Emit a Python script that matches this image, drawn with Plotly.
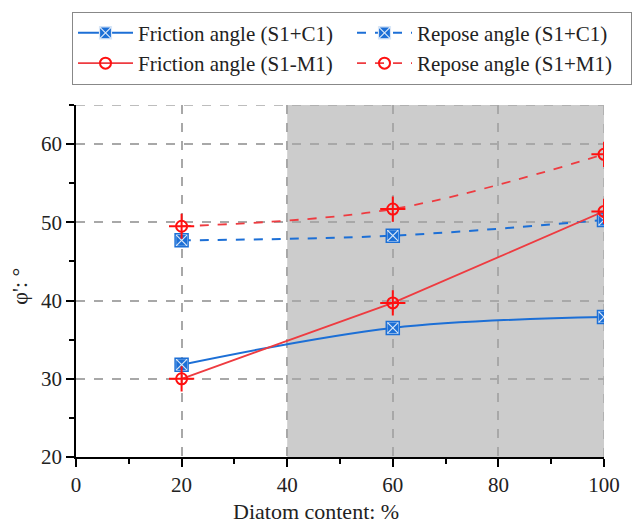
import plotly.graph_objects as go

x = [20, 60, 100]
fric_c1 = [31.8, 36.5, 37.9]
fric_m1 = [30.0, 39.7, 51.4]
repo_c1 = [47.7, 48.3, 50.3]
repo_m1 = [49.5, 51.7, 58.7]

BLUE = "#1c6fd6"
RED = "#ee3b40"
MRED = "#ff1010"
FONT = "Liberation Serif"

fig = go.Figure()

def blue_trace(y, name, dash, shape):
    fig.add_trace(go.Scatter(
        x=x, y=y, name=name, mode="lines+markers",
        line=dict(color=BLUE, width=2, dash=dash, shape=shape),
        marker=dict(symbol="square-x", size=12, color=BLUE,
                    line=dict(color="#d8e6f7", width=1.2)),
    ))
    fig.add_trace(go.Scatter(
        x=x, y=y, mode="markers", showlegend=False, hoverinfo="skip",
        marker=dict(symbol="square-open", size=13, color=BLUE,
                    line=dict(color=BLUE, width=1.5)),
    ))

def red_trace(y, name, dash, shape):
    fig.add_trace(go.Scatter(
        x=x, y=y, name=name, mode="lines+markers",
        line=dict(color=RED, width=1.8, dash=dash, shape=shape),
        marker=dict(symbol="circle-open", size=11, color=MRED,
                    line=dict(color=MRED, width=2)),
    ))
    fig.add_trace(go.Scatter(
        x=x, y=y, mode="markers", showlegend=False, hoverinfo="skip",
        marker=dict(symbol="cross-thin-open", size=18, color=MRED,
                    line=dict(color=MRED, width=2)),
    ))

blue_trace(fric_c1, "Friction angle (S1+C1)", "solid", "spline")
blue_trace(repo_c1, "Repose angle (S1+C1)", "dash", "spline")
red_trace(fric_m1, "Friction angle (S1-M1)", "solid", "linear")
red_trace(repo_m1, "Repose angle (S1+M1)", "dash", "spline")

fig.add_shape(type="rect", x0=40, x1=100, y0=20, y1=65, xref="x", yref="y",
              fillcolor="#cccccc", line=dict(width=0), layer="below")
fig.add_shape(type="line", x0=0, x1=100, y0=65, y1=65, xref="x", yref="y",
              line=dict(color="#a8a8a8", width=1.5, dash="dash"), layer="below")
fig.add_shape(type="line", x0=100, x1=100, y0=20, y1=65, xref="x", yref="y",
              line=dict(color="#a8a8a8", width=1.5, dash="dash"), layer="below")

axis_common = dict(
    showline=True, linecolor="black", linewidth=1.5,
    ticks="outside", ticklen=8, tickwidth=1.5, tickcolor="black",
    showgrid=True, gridcolor="#a8a8a8", gridwidth=1.5, griddash="dash",
    zeroline=False, automargin=False,
    tickfont=dict(family=FONT, size=21, color="#222"),
)

fig.update_xaxes(range=[0, 100], tickvals=[0, 20, 40, 60, 80, 100],
                 minor=dict(tickvals=[10, 30, 50, 70, 90], ticks="outside",
                            ticklen=5, tickwidth=1.5, tickcolor="black", showgrid=False),
                 **axis_common)
fig.update_yaxes(range=[20, 65], tickvals=[20, 30, 40, 50, 60],
                 minor=dict(tickvals=[25, 35, 45, 55, 65], ticks="outside",
                            ticklen=5, tickwidth=1.5, tickcolor="black", showgrid=False),
                 **axis_common)

fig.add_annotation(text="Diatom content: %", xref="paper", yref="paper", x=0.455, y=-0.155,
                   xanchor="center", yanchor="middle", showarrow=False,
                   font=dict(family=FONT, size=22, color="#222"))
fig.add_annotation(text="φ': °", xref="paper", yref="paper", x=-0.107, y=0.485,
                   xanchor="center", yanchor="middle", textangle=-90, showarrow=False,
                   font=dict(family=FONT, size=22, color="#222"))

fig.update_layout(
    width=632, height=524,
    margin=dict(l=76, r=28, t=102, b=67),
    plot_bgcolor="white", paper_bgcolor="white",
    font=dict(family=FONT, color="#222"),
    legend=dict(orientation="h", x=-0.006, y=1.265, xanchor="left", yanchor="top",
                bordercolor="#888", borderwidth=1, bgcolor="white",
                font=dict(family=FONT, size=21, color="#222"),
                entrywidth=209, itemwidth=55, tracegroupgap=0),
)

fig.write_html("out.html")
